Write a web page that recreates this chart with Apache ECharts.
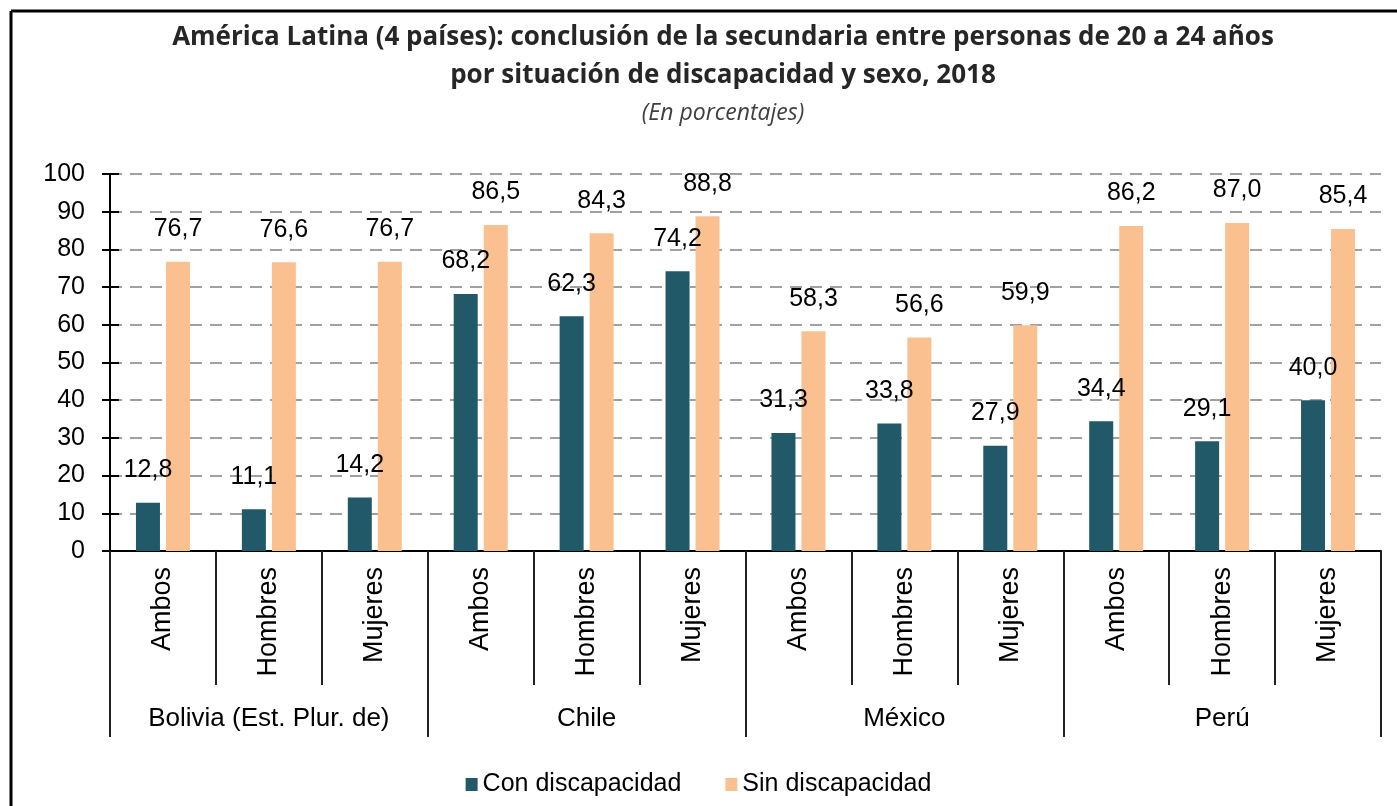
<!DOCTYPE html>
<html>
<head>
<meta charset="utf-8">
<script src="https://cdn.jsdelivr.net/npm/echarts@6/dist/echarts.min.js"></script>
<style>
  html, body { margin: 0; padding: 0; background: #fff; }
  #chart { width: 1397px; height: 806px; }
</style>
</head>
<body>
<div id="chart"></div>
<script>
  // datos
  var grupos = ['Ambos', 'Hombres', 'Mujeres', 'Ambos', 'Hombres', 'Mujeres',
                'Ambos', 'Hombres', 'Mujeres', 'Ambos', 'Hombres', 'Mujeres']
  var paises = ['Bolivia (Est. Plur. de)', 'Chile', 'México', 'Perú']
  var conDiscapacidad = [12.8, 11.1, 14.2, 68.2, 62.3, 74.2, 31.3, 33.8, 27.9, 34.4, 29.1, 40.0]
  var sinDiscapacidad = [76.7, 76.6, 76.7, 86.5, 84.3, 88.8, 58.3, 56.6, 59.9, 86.2, 87.0, 85.4]
  var nombresSeries = ['Con discapacidad', 'Sin discapacidad']

  var fuente = '"Liberation Sans", Arial, sans-serif'
  var chart = echarts.init(document.getElementById('chart'))

  function etiqueta (p) {
    return p.value.toFixed(1).replace('.', ',')
  }

  chart.setOption({
    animation: false,
    title: [{
      text: 'América Latina (4 países): conclusión de la secundaria entre personas de 20 a 24 años\npor situación de discapacidad y sexo, 2018',
      left: 718,
      top: 14,
      textAlign: 'center',
      textStyle: {
        fontFamily: '"Open Sans", sans-serif',
        fontWeight: 'bold',
        fontSize: 26,
        lineHeight: 38,
        color: '#262626'
      }
    }, {
      text: '(En porcentajes)',
      left: 718,
      top: 97,
      textAlign: 'center',
      textStyle: {
        fontFamily: '"Open Sans", sans-serif',
        fontStyle: 'italic',
        fontWeight: 'normal',
        fontSize: 23,
        color: '#404040'
      }
    }],
    graphic: [
      { type: 'line', shape: { x1: 11, y1: 11, x2: 1397, y2: 11 }, style: { stroke: '#000', lineWidth: 3 } },
      { type: 'line', shape: { x1: 11, y1: 11, x2: 11, y2: 806 }, style: { stroke: '#000', lineWidth: 3 } }
    ],
    legend: {
      data: nombresSeries,
      left: 'center',
      top: 767,
      itemWidth: 12,
      itemHeight: 13,
      itemGap: 44,
      icon: 'rect',
      textStyle: { fontFamily: fuente, fontSize: 25, color: '#000' }
    },
    color: ['#215968', '#FAC090'],
    grid: { left: 110, right: 16, top: 174, bottom: 255 },
    xAxis: [{
      type: 'category',
      data: grupos,
      axisLine: { lineStyle: { color: '#000', width: 2 } },
      axisTick: { show: true, interval: 0, length: 134, lineStyle: { color: '#222', width: 2 } },
      axisLabel: {
        interval: 0,
        rotate: 90,
        margin: 16,
        fontFamily: fuente,
        fontSize: 27,
        color: '#000'
      }
    }, {
      type: 'category',
      data: paises,
      position: 'bottom',
      axisLine: { show: false },
      axisTick: { show: true, interval: 0, length: 186, lineStyle: { color: '#222', width: 2 } },
      axisLabel: {
        interval: 0,
        margin: 155,
        fontFamily: fuente,
        fontSize: 26,
        color: '#000'
      }
    }],
    yAxis: [{
      type: 'value',
      min: 0,
      max: 100,
      interval: 10,
      axisLine: { show: true, lineStyle: { color: '#000', width: 2 } },
      axisTick: { show: true, length: 8, lineStyle: { color: '#000', width: 2 } },
      axisLabel: { margin: 25, fontFamily: fuente, fontSize: 25, color: '#000' },
      splitLine: { lineStyle: { color: '#a0a0a0', width: 2, type: [12, 8] } }
    }, {
      type: 'value',
      min: 0,
      max: 100,
      interval: 10,
      position: 'left',
      axisLine: { show: false },
      axisTick: { show: true, inside: true, length: 9, lineStyle: { color: '#000', width: 2 } },
      axisLabel: { show: false },
      splitLine: { show: false }
    }],
    series: [{
      name: nombresSeries[0],
      type: 'bar',
      data: conDiscapacidad,
      barWidth: 24,
      barGap: '25%',
      label: {
        show: true,
        position: 'top',
        distance: 20,
        formatter: etiqueta,
        fontFamily: fuente,
        fontSize: 25,
        color: '#000'
      }
    }, {
      name: nombresSeries[1],
      type: 'bar',
      data: sinDiscapacidad,
      barWidth: 24,
      barGap: '25%',
      label: {
        show: true,
        position: 'top',
        distance: 20,
        formatter: etiqueta,
        fontFamily: fuente,
        fontSize: 25,
        color: '#000'
      }
    }]
  })
</script>
</body>
</html>
